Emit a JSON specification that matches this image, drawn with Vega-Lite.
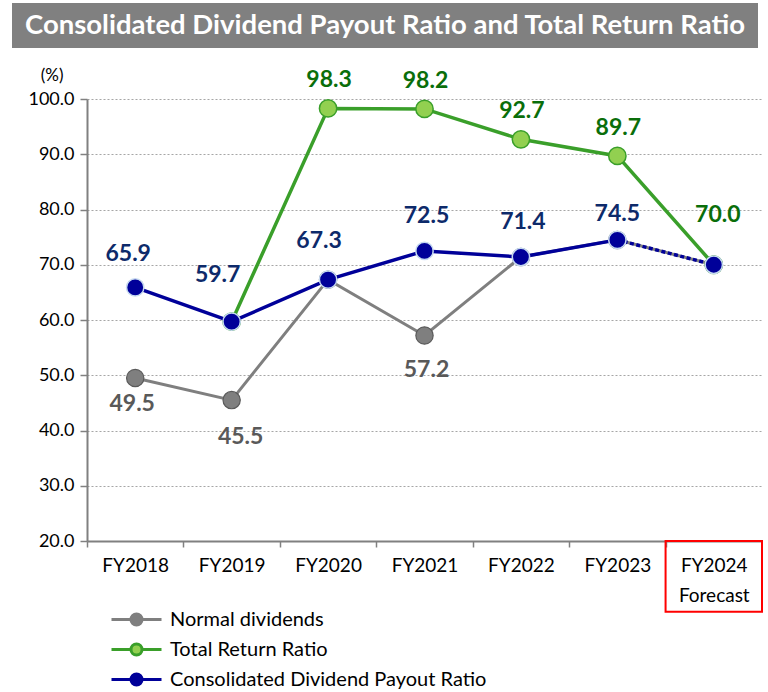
{
  "$schema": "https://vega.github.io/schema/vega-lite/v6.json",
  "padding": {"left": 12, "top": 3, "right": 0, "bottom": 0},
  "background": "white",
  "spacing": 18,
  "resolve": {"legend": {"stroke": "independent", "fill": "independent"}},
  "config": {
    "font": "Lato",
    "view": {"stroke": null},
    "legend": {
      "orient": "none",
      "legendX": 113,
      "legendY": 509,
      "symbolType": "M-2.5,0L-0.55,0M0.55,0L2.5,0M0.55,0A0.55,0.55,0,1,1,-0.55,0A0.55,0.55,0,1,1,0.55,0Z",
      "symbolSize": 400,
      "symbolStrokeWidth": 3,
      "labelFontSize": 20,
      "labelColor": "#000000",
      "labelFont": "Lato",
      "labelOffset": 22,
      "rowPadding": 7,
      "labelLimit": 500
    }
  },
  "datasets": {
    "banner": [{"title": "Consolidated Dividend Payout Ratio and Total Return Ratio"}],
    "ratios": [
      {"year": "FY2018", "series": "Normal dividends", "value": 49.5},
      {"year": "FY2019", "series": "Normal dividends", "value": 45.5},
      {"year": "FY2020", "series": "Normal dividends", "value": 67.3},
      {"year": "FY2021", "series": "Normal dividends", "value": 57.2},
      {"year": "FY2022", "series": "Normal dividends", "value": 71.4},
      {"year": "FY2023", "series": "Normal dividends", "value": 74.5},
      {"year": "FY2024", "series": "Normal dividends", "value": 70.0},
      {"year": "FY2019", "series": "Total Return Ratio", "value": 59.7},
      {"year": "FY2020", "series": "Total Return Ratio", "value": 98.3},
      {"year": "FY2021", "series": "Total Return Ratio", "value": 98.2},
      {"year": "FY2022", "series": "Total Return Ratio", "value": 92.7},
      {"year": "FY2023", "series": "Total Return Ratio", "value": 89.7},
      {"year": "FY2024", "series": "Total Return Ratio", "value": 70.0},
      {"year": "FY2018", "series": "Consolidated Dividend Payout Ratio", "value": 65.9},
      {"year": "FY2019", "series": "Consolidated Dividend Payout Ratio", "value": 59.7},
      {"year": "FY2020", "series": "Consolidated Dividend Payout Ratio", "value": 67.3},
      {"year": "FY2021", "series": "Consolidated Dividend Payout Ratio", "value": 72.5},
      {"year": "FY2022", "series": "Consolidated Dividend Payout Ratio", "value": 71.4},
      {"year": "FY2023", "series": "Consolidated Dividend Payout Ratio", "value": 74.5},
      {"year": "FY2024", "series": "Consolidated Dividend Payout Ratio", "value": 70.0}
    ]
  },
  "vconcat": [
    {
      "width": 746,
      "height": 45,
      "view": {"fill": "#808080", "stroke": null},
      "data": {"name": "banner"},
      "mark": {"type": "text", "color": "white", "fontSize": 27.5, "fontWeight": "bold", "align": "center", "baseline": "middle", "font": "Lato"},
      "encoding": {"text": {"field": "title"}}
    },
    {
      "width": 750,
      "height": 442,
      "data": {"name": "ratios"},
      "encoding": {
        "x": {
          "field": "year",
          "type": "nominal",
          "title": null,
          "scale": {"paddingInner": 0, "paddingOuter": 0, "range": [75, 750]},
          "axis": {
            "labelAngle": 0,
            "labelFontSize": 19,
            "labelColor": "#000000",
            "labelPadding": 9,
            "labelLineHeight": 30,
            "labelExpr": "datum.value == 'FY2024' ? ['FY2024', 'Forecast'] : datum.value",
            "tickBand": "extent",
            "tickSize": 6,
            "tickColor": "#808080",
            "tickWidth": 1.5,
            "domainColor": "#808080",
            "domainWidth": 2,
            "grid": false
          }
        },
        "y": {
          "field": "value",
          "type": "quantitative",
          "title": "(%)",
          "scale": {"domain": [20, 100], "nice": false, "zero": false},
          "axis": {
            "offset": -75,
            "values": [20, 30, 40, 50, 60, 70, 80, 90, 100],
            "format": ".1f",
            "labelFontSize": 18,
            "labelColor": "#000000",
            "labelPadding": 6,
            "tickSize": 7,
            "tickColor": "#808080",
            "tickWidth": 1.5,
            "domainColor": "#808080",
            "domainWidth": 2,
            "gridColor": "#a6a6a6",
            "gridDash": [2, 2],
            "gridWidth": 1.2,
            "titleAngle": 0,
            "titleAlign": "right",
            "titleBaseline": "middle",
            "titleX": -24,
            "titleY": -24,
            "titleFontSize": 17,
            "titleFontWeight": "normal",
            "titleColor": "#000000"
          }
        }
      },
      "layer": [
        {
          "transform": [{"filter": "datum.series == 'Normal dividends'"}],
          "mark": {"type": "line", "strokeWidth": 3},
          "encoding": {
            "stroke": {"field": "series", "type": "nominal", "scale": {"domain": ["Normal dividends", "Total Return Ratio", "Consolidated Dividend Payout Ratio"], "range": ["#7f7f7f", "#3a9f2a", "#000099"]}, "legend": {"title": null}}
          }
        },
        {
          "transform": [{"filter": "datum.series == 'Normal dividends'"}],
          "mark": {"type": "point", "filled": true, "shape": "circle", "size": 300, "opacity": 1, "stroke": "#5a5a5a", "strokeWidth": 1.2},
          "encoding": {
            "fill": {"field": "series", "type": "nominal", "scale": {"domain": ["Normal dividends", "Total Return Ratio", "Consolidated Dividend Payout Ratio"], "range": ["#7f7f7f", "#92d050", "#000099"]}, "legend": {"title": null}}
          }
        },
        {
          "transform": [{"filter": "datum.series == 'Total Return Ratio'"}],
          "mark": {"type": "line", "strokeWidth": 3.5},
          "encoding": {
            "stroke": {"field": "series", "type": "nominal", "legend": {"title": null}}
          }
        },
        {
          "transform": [{"filter": "datum.series == 'Total Return Ratio'"}],
          "mark": {"type": "point", "filled": true, "shape": "circle", "size": 300, "opacity": 1, "stroke": "#3a9f2a", "strokeWidth": 1.5},
          "encoding": {
            "fill": {"field": "series", "type": "nominal", "legend": {"title": null}}
          }
        },
        {
          "transform": [{"filter": "datum.series == 'Consolidated Dividend Payout Ratio' && datum.year != 'FY2024'"}],
          "mark": {"type": "line", "strokeWidth": 3.5},
          "encoding": {
            "stroke": {"field": "series", "type": "nominal", "legend": {"title": null}}
          }
        },
        {
          "transform": [{"filter": "datum.series == 'Consolidated Dividend Payout Ratio' && (datum.year == 'FY2023' || datum.year == 'FY2024')"}],
          "mark": {"type": "line", "strokeWidth": 3.5, "stroke": "#000099", "strokeDash": [4, 2.5]},
          "encoding": {}
        },
        {
          "transform": [{"filter": "datum.series == 'Consolidated Dividend Payout Ratio'"}],
          "mark": {"type": "point", "filled": true, "shape": "circle", "size": 300, "opacity": 1, "stroke": "#c6d9f0", "strokeWidth": 1.5},
          "encoding": {
            "fill": {"field": "series", "type": "nominal", "legend": {"title": null}}
          }
        },
        {
          "transform": [{"filter": "datum.series == 'Consolidated Dividend Payout Ratio' && datum.year == 'FY2024'"}],
          "mark": {"type": "rect", "fill": null, "fillOpacity": 0, "stroke": "#ff0000", "strokeWidth": 2, "clip": false},
          "encoding": {"y": {"datum": 20}, "y2": {"datum": 7.2}}
        },
        {
          "transform": [{"filter": "datum.series == 'Consolidated Dividend Payout Ratio' && datum.year == 'FY2018'"}],
          "mark": {"type": "text", "fontSize": 23, "fontWeight": "bold", "color": "#0d2a6a", "dx": -7, "dy": -33},
          "encoding": {"text": {"field": "value", "format": ".1f"}}
        },
        {
          "transform": [{"filter": "datum.series == 'Consolidated Dividend Payout Ratio' && datum.year == 'FY2019'"}],
          "mark": {"type": "text", "fontSize": 23, "fontWeight": "bold", "color": "#0d2a6a", "dx": -14, "dy": -47},
          "encoding": {"text": {"field": "value", "format": ".1f"}}
        },
        {
          "transform": [{"filter": "datum.series == 'Consolidated Dividend Payout Ratio' && datum.year == 'FY2020'"}],
          "mark": {"type": "text", "fontSize": 23, "fontWeight": "bold", "color": "#0d2a6a", "dx": -9, "dy": -39},
          "encoding": {"text": {"field": "value", "format": ".1f"}}
        },
        {
          "transform": [{"filter": "datum.series == 'Consolidated Dividend Payout Ratio' && (datum.year == 'FY2021' || datum.year == 'FY2022')"}],
          "mark": {"type": "text", "fontSize": 23, "fontWeight": "bold", "color": "#0d2a6a", "dx": 2, "dy": -35},
          "encoding": {"text": {"field": "value", "format": ".1f"}}
        },
        {
          "transform": [{"filter": "datum.series == 'Consolidated Dividend Payout Ratio' && datum.year == 'FY2023'"}],
          "mark": {"type": "text", "fontSize": 23, "fontWeight": "bold", "color": "#0d2a6a", "dx": 0, "dy": -26},
          "encoding": {"text": {"field": "value", "format": ".1f"}}
        },
        {
          "transform": [{"filter": "datum.series == 'Total Return Ratio' && datum.year != 'FY2019' && datum.year != 'FY2024'"}],
          "mark": {"type": "text", "fontSize": 23, "fontWeight": "bold", "color": "#0a6e0a", "dx": 1, "dy": -28},
          "encoding": {"text": {"field": "value", "format": ".1f"}}
        },
        {
          "transform": [{"filter": "datum.series == 'Total Return Ratio' && datum.year == 'FY2024'"}],
          "mark": {"type": "text", "fontSize": 23, "fontWeight": "bold", "color": "#0a6e0a", "dx": 4, "dy": -50},
          "encoding": {"text": {"field": "value", "format": ".1f"}}
        },
        {
          "transform": [{"filter": "datum.series == 'Normal dividends' && datum.year == 'FY2018'"}],
          "mark": {"type": "text", "fontSize": 23, "fontWeight": "bold", "color": "#595959", "dx": -3, "dy": 26},
          "encoding": {"text": {"field": "value", "format": ".1f"}}
        },
        {
          "transform": [{"filter": "datum.series == 'Normal dividends' && datum.year == 'FY2019'"}],
          "mark": {"type": "text", "fontSize": 23, "fontWeight": "bold", "color": "#595959", "dx": 9, "dy": 37},
          "encoding": {"text": {"field": "value", "format": ".1f"}}
        },
        {
          "transform": [{"filter": "datum.series == 'Normal dividends' && datum.year == 'FY2021'"}],
          "mark": {"type": "text", "fontSize": 23, "fontWeight": "bold", "color": "#595959", "dx": 2, "dy": 35},
          "encoding": {"text": {"field": "value", "format": ".1f"}}
        }
      ]
    }
  ]
}
